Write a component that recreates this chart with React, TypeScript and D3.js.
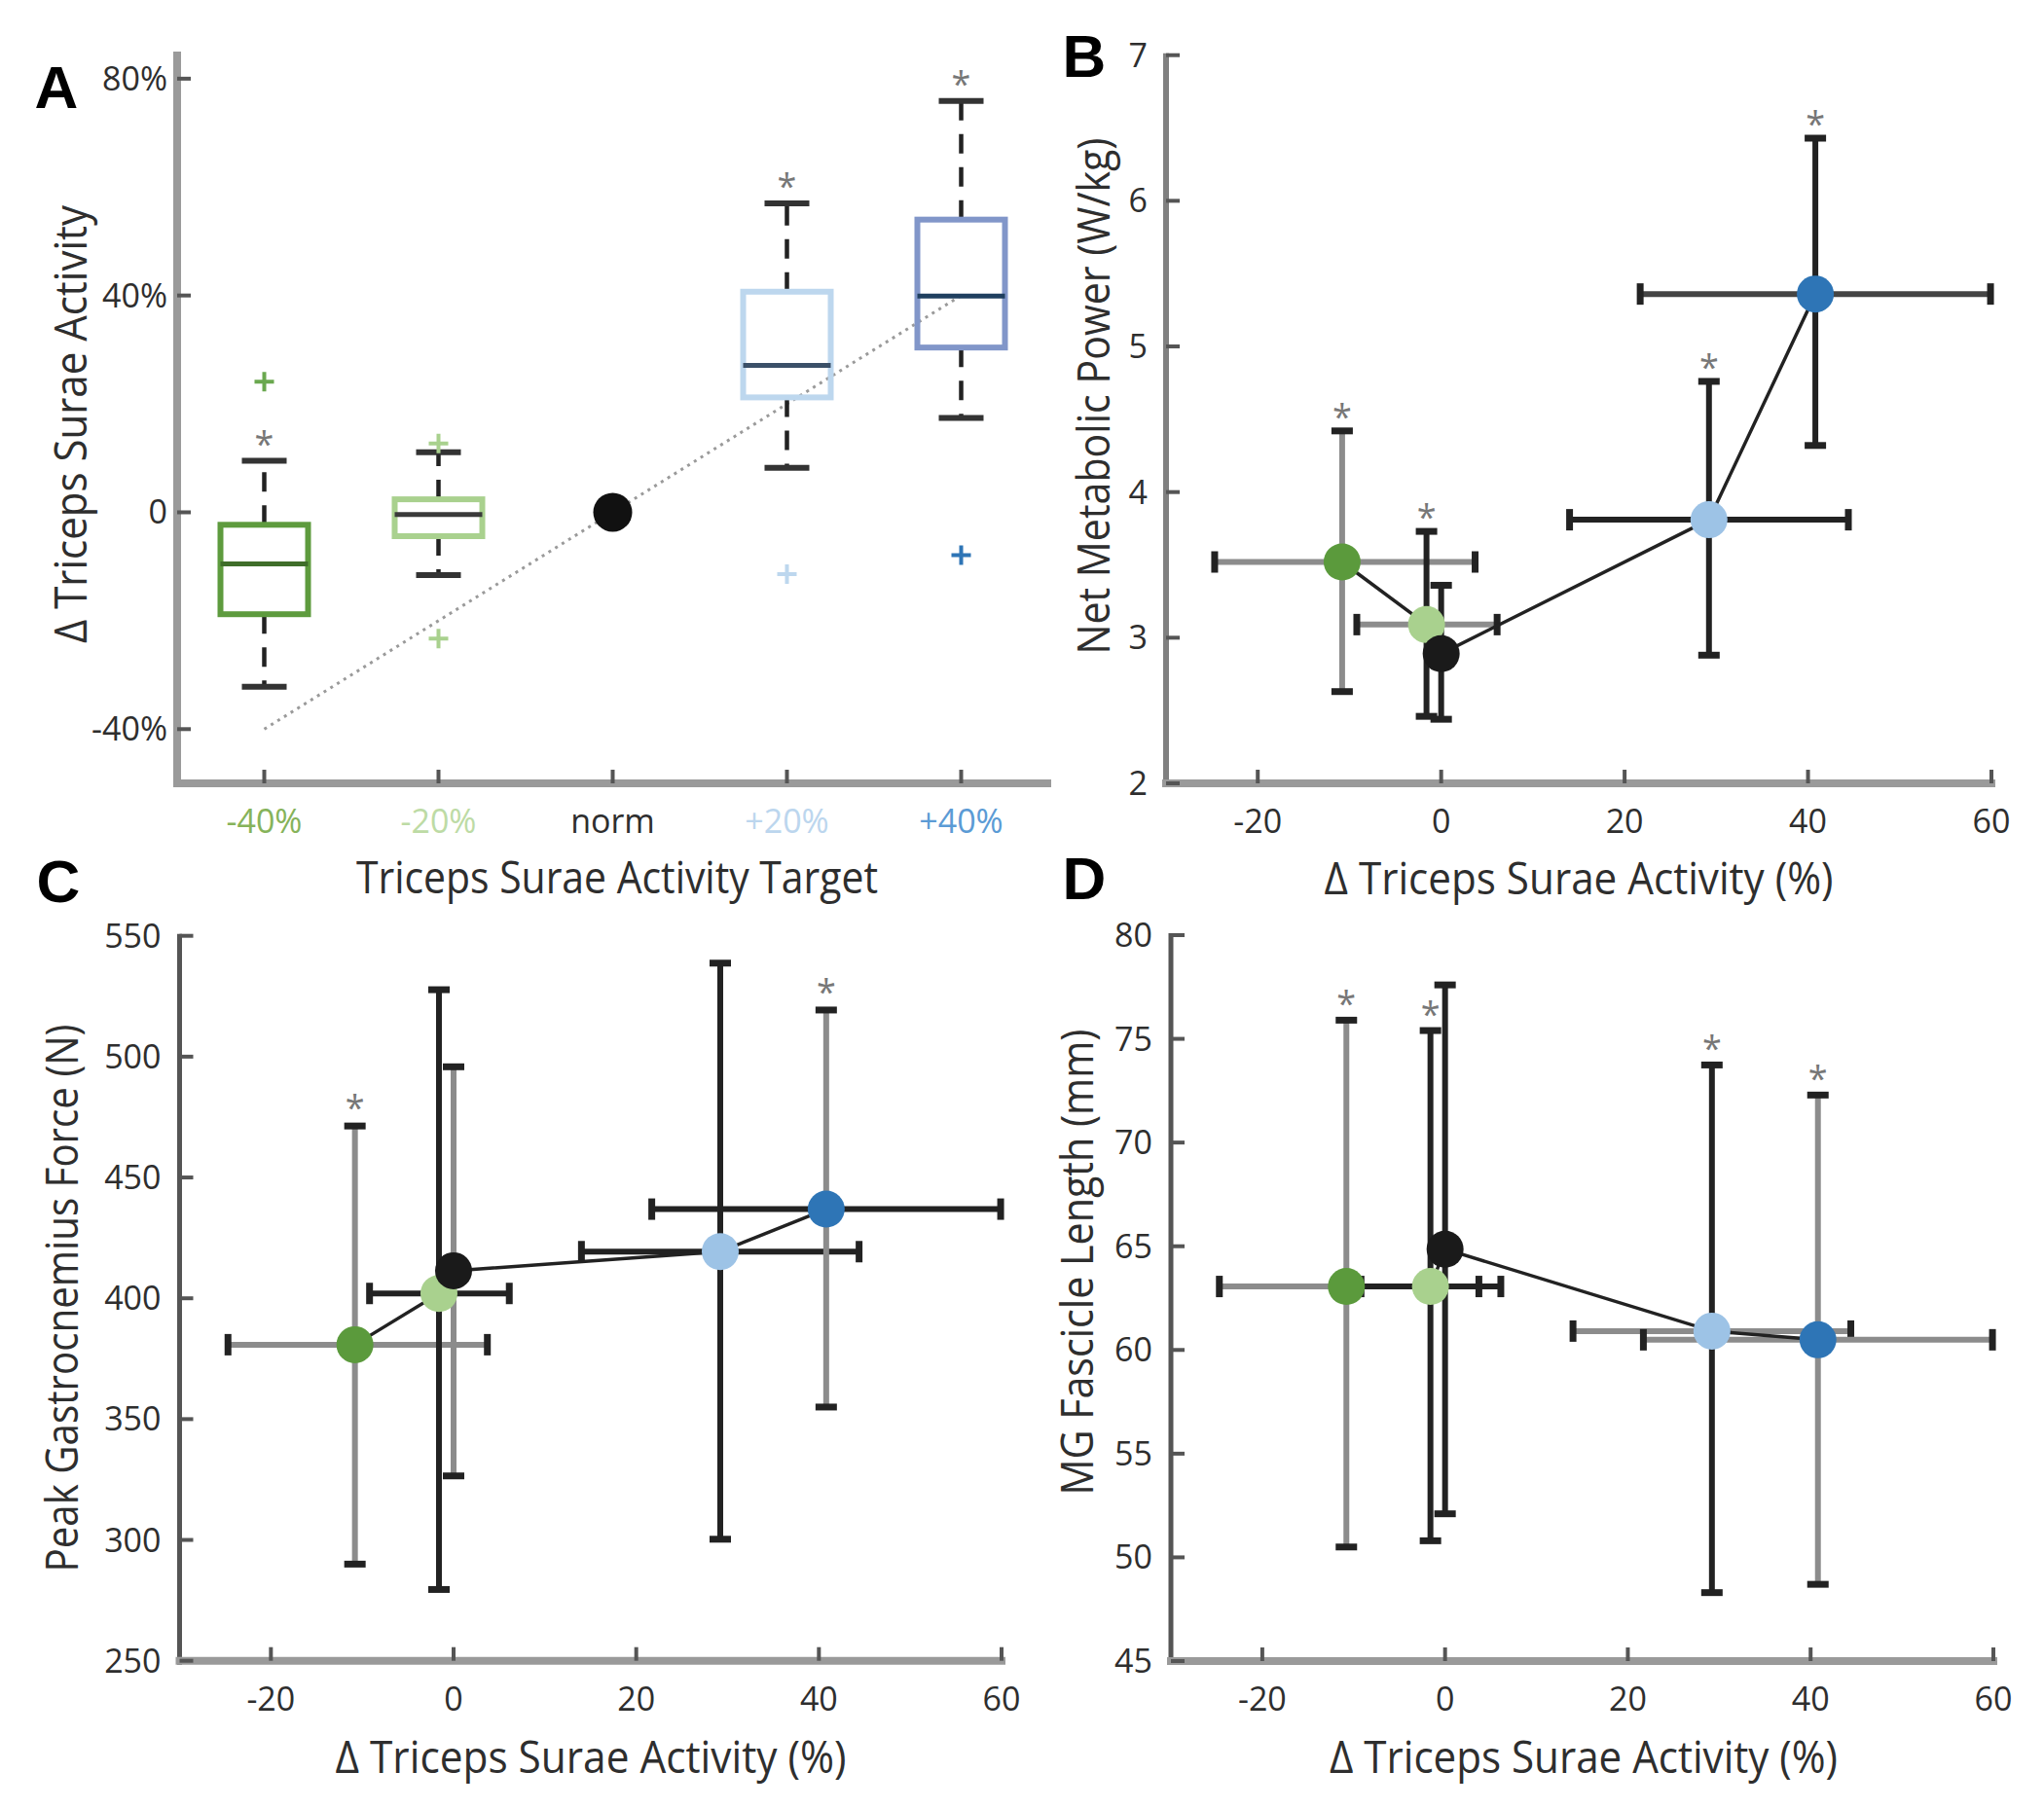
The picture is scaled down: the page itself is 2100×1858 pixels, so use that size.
import React from 'react';
import * as d3 from 'd3';

// ---------- DATA ----------
const targets = ['-40%', '-20%', 'norm', '+20%', '+40%'];

// Panel A: box plots of Δ triceps surae activity (%) per target
const boxTargets = ['-40%', '-20%', '+20%', '+40%'];
const boxLow = [-32.2, -11.6, 8.2, 17.4];
const boxQ1 = [-18.8, -4.4, 21.2, 30.4];
const boxMedian = [-9.5, -0.4, 27.1, 39.9];
const boxQ3 = [-2.3, 2.4, 40.7, 54.0];
const boxHigh = [9.5, 11.1, 57.0, 75.9];
const boxOutliers = [[24.1], [12.7, -23.3], [-11.4], [-7.9]];
const boxSignificant = [true, false, true, true];
const normTarget = 'norm';
const normValue = 0;
const unityFrom = { target: '-40%', value: -40 };
const unityTo = { target: '+40%', value: 40 };
const aYTicks = [-40, 0, 40, 80];
const aYTickLabels = ['-40%', '0', '40%', '80%'];

// Panels B–D: x = Δ triceps surae activity (%), mean and error range
const activityMean = [-10.8, -1.6, 0, 29.2, 40.8];
const activityLow = [-24.7, -9.2, 0, 14.0, 21.7];
const activityHigh = [3.7, 6.1, 0, 44.4, 59.9];
const xTicksBCD = [-20, 0, 20, 40, 60];

// B: net metabolic power (W/kg)
const metabolicMean = [3.52, 3.09, 2.89, 3.81, 5.36];
const metabolicLow = [2.63, 2.46, 2.44, 2.88, 4.32];
const metabolicHigh = [4.42, 3.73, 3.36, 4.76, 6.43];
const metabolicSig = [true, true, false, true, true];
const metabolicTicks = [2, 3, 4, 5, 6, 7];

// C: peak gastrocnemius force (N)
const forceMean = [380.8, 402.0, 411.4, 419.3, 436.9];
const forceLow = [290.0, 279.5, 326.5, 300.3, 355.0];
const forceHigh = [471.3, 527.7, 495.8, 538.7, 519.3];
const forceSig = [true, false, false, false, true];
const forceTicks = [250, 300, 350, 400, 450, 500, 550];

// D: MG fascicle length (mm)
const fascicleMean = [63.06, 63.06, 64.86, 60.91, 60.49];
const fascicleLow = [50.5, 50.8, 52.1, 48.3, 48.7];
const fascicleHigh = [75.9, 75.4, 77.6, 73.74, 72.29];
const fascicleSig = [true, true, false, true, true];
const fascicleTicks = [45, 50, 55, 60, 65, 70, 75, 80];

// ---------- STYLE ----------
const FONT = "'Open Sans', 'Liberation Sans', Arial, sans-serif";
const GRAY = '#8c8c8c';
const DARK = '#222';
const TXT = '#2e2e2e';
const pointColors = ['#5b9a3c', '#a9d18e', '#1a1a1a', '#9dc3e6', '#2e75b6'];
const targetLabelColors = ['#86b35a', '#bddba5', '#2e2e2e', '#bcd6ee', '#5b9bd5'];
const boxStroke = ['#5e9b3e', '#a9d18e', '#bdd7ee', '#8196c9'];
const medianStroke = ['#3f6e2a', '#3a3a3a', '#3b5068', '#1f3f5f'];
const outlierColor = ['#6aa84f', '#a9d18e', '#bdd7ee', '#2e75b6'];

const TICK_FS = 34;
const TITLE_FS = 46;

function Asterisk({ x, y }: { x: number; y: number }) {
  return (
    <text x={x} y={y + 20} textAnchor="middle" fontSize={36} fill="#777" fontFamily={FONT}>
      *
    </text>
  );
}

function Plus({ x, y, color }: { x: number; y: number; color: string }) {
  const s = 10;
  return (
    <path d={`M${x - s},${y}H${x + s}M${x},${y - s}V${y + s}`} stroke={color} strokeWidth={4} fill="none" />
  );
}

function PanelA() {
  const left = 182, right = 1077, top = 53, bottom = 805;
  const x = d3.scaleLinear().domain([0.5, targets.length + 0.5]).range([left, right]);
  const y = d3.scaleLinear().domain([-50, 85]).range([bottom, top]);
  const pos = (t: string) => x(targets.indexOf(t) + 1);
  const halfBox = 45, halfCap = 23;
  return (
    <g>
      <line x1={pos(unityFrom.target)} y1={y(unityFrom.value)} x2={pos(unityTo.target)} y2={y(unityTo.value)}
        stroke="#9a9a9a" strokeWidth={3} strokeDasharray="3 5" />
      {boxTargets.map((t, i) => {
        const cx = pos(t);
        return (
          <g key={t}>
            <line x1={cx} x2={cx} y1={y(boxQ3[i])} y2={y(boxHigh[i])} stroke={DARK} strokeWidth={4.5} strokeDasharray="20 14" />
            <line x1={cx} x2={cx} y1={y(boxQ1[i])} y2={y(boxLow[i])} stroke={DARK} strokeWidth={4.5} strokeDasharray="20 14" />
            <line x1={cx - halfCap} x2={cx + halfCap} y1={y(boxHigh[i])} y2={y(boxHigh[i])} stroke="#333" strokeWidth={6} />
            <line x1={cx - halfCap} x2={cx + halfCap} y1={y(boxLow[i])} y2={y(boxLow[i])} stroke="#333" strokeWidth={6} />
            <rect x={cx - halfBox} width={halfBox * 2} y={y(boxQ3[i])} height={y(boxQ1[i]) - y(boxQ3[i])}
              fill="none" stroke={boxStroke[i]} strokeWidth={6} />
            <line x1={cx - halfBox} x2={cx + halfBox} y1={y(boxMedian[i])} y2={y(boxMedian[i])} stroke={medianStroke[i]} strokeWidth={5} />
            {boxOutliers[i].map((o, j) => <Plus key={j} x={cx} y={y(o)} color={outlierColor[i]} />)}
            {boxSignificant[i] && <Asterisk x={cx} y={y(boxHigh[i]) - 25} />}
          </g>
        );
      })}
      <circle cx={pos(normTarget)} cy={y(normValue)} r={20} fill="#111" />
      <line x1={left} x2={left} y1={top} y2={bottom + 4} stroke="#9a9a9a" strokeWidth={8} />
      <line x1={left - 4} x2={right + 3} y1={bottom} y2={bottom} stroke="#9a9a9a" strokeWidth={8} />
      {aYTicks.map((v, i) => (
        <g key={v}>
          <line x1={left} x2={left + 14} y1={y(v)} y2={y(v)} stroke="#555" strokeWidth={4} />
          <text x={left - 10} y={y(v) + 12} textAnchor="end" fontSize={TICK_FS} fill={TXT}>{aYTickLabels[i]}</text>
        </g>
      ))}
      {targets.map((t, i) => (
        <g key={t}>
          <line x1={pos(t)} x2={pos(t)} y1={bottom} y2={bottom - 14} stroke="#555" strokeWidth={4} />
          <text x={pos(t)} y={bottom + 51} textAnchor="middle" fontSize={TICK_FS} fill={targetLabelColors[i]}>{t}</text>
        </g>
      ))}
      <text x={634} y={903 + 15} textAnchor="middle" fontSize={TITLE_FS} fill={TXT} textLength={536} lengthAdjust="spacingAndGlyphs">
        Triceps Surae Activity Target
      </text>
      <text transform="translate(74,436) rotate(-90)" y={15} textAnchor="middle" fontSize={TITLE_FS} fill={TXT} textLength={450} lengthAdjust="spacingAndGlyphs">
        Δ Triceps Surae Activity
      </text>
    </g>
  );
}

type ScatterProps = {
  left: number; right: number; top: number; bottom: number;
  yDomain: [number, number]; yTicks: number[];
  mean: number[]; low: number[]; high: number[]; sig: boolean[];
  vColors: string[]; hColors: string[];
  yAxisColor: string; yAxisWidth: number; starGap: number;
  xTitle: string; xTitlePos: [number, number]; xTitleLen: number;
  yTitle: string; yTitlePos: [number, number]; yTitleLen: number;
};

function ScatterPanel(p: ScatterProps) {
  const x = d3.scaleLinear().domain([-30, 60]).range([p.left, p.right]);
  const y = d3.scaleLinear().domain(p.yDomain).range([p.bottom, p.top]);
  const cap = 11;
  const line = d3.line<number>().x((_, i) => x(activityMean[i])).y((d) => y(d));
  return (
    <g>
      <line x1={p.left} x2={p.left} y1={p.top - 2} y2={p.bottom + 4} stroke={p.yAxisColor} strokeWidth={p.yAxisWidth} />
      <line x1={p.left - 4} x2={p.right + 4} y1={p.bottom} y2={p.bottom} stroke="#9a9a9a" strokeWidth={8} />
      {p.yTicks.map((v) => (
        <g key={v}>
          <line x1={p.left} x2={p.left + 14} y1={y(v)} y2={y(v)} stroke="#555" strokeWidth={4} />
          <text x={p.left - 19} y={y(v) + 12} textAnchor="end" fontSize={TICK_FS} fill={TXT}>{v}</text>
        </g>
      ))}
      {xTicksBCD.map((v) => (
        <g key={v}>
          <line x1={x(v)} x2={x(v)} y1={p.bottom} y2={p.bottom - 14} stroke="#555" strokeWidth={4} />
          <text x={x(v)} y={p.bottom + 51} textAnchor="middle" fontSize={TICK_FS} fill={TXT}>{v}</text>
        </g>
      ))}
      {p.mean.map((m, i) => {
        const cx = x(activityMean[i]);
        const cy = y(m);
        const hasH = activityLow[i] !== activityHigh[i];
        return (
          <g key={i}>
            <line x1={cx} x2={cx} y1={y(p.low[i])} y2={y(p.high[i])} stroke={p.vColors[i]} strokeWidth={6} />
            <line x1={cx - cap} x2={cx + cap} y1={y(p.low[i])} y2={y(p.low[i])} stroke={DARK} strokeWidth={7} />
            <line x1={cx - cap} x2={cx + cap} y1={y(p.high[i])} y2={y(p.high[i])} stroke={DARK} strokeWidth={7} />
            {hasH && (
              <g>
                <line x1={x(activityLow[i])} x2={x(activityHigh[i])} y1={cy} y2={cy} stroke={p.hColors[i]} strokeWidth={6} />
                <line x1={x(activityLow[i])} x2={x(activityLow[i])} y1={cy - cap} y2={cy + cap} stroke={DARK} strokeWidth={7} />
                <line x1={x(activityHigh[i])} x2={x(activityHigh[i])} y1={cy - cap} y2={cy + cap} stroke={DARK} strokeWidth={7} />
              </g>
            )}
            {p.sig[i] && <Asterisk x={cx} y={y(p.high[i]) - p.starGap} />}
          </g>
        );
      })}
      <path d={line(p.mean) || ''} fill="none" stroke="#222" strokeWidth={3.5} />
      {p.mean.map((m, i) => (
        <circle key={i} cx={x(activityMean[i])} cy={y(m)} r={19} fill={pointColors[i]} />
      ))}
      <text x={p.xTitlePos[0]} y={p.xTitlePos[1] + 15} textAnchor="middle" fontSize={TITLE_FS} fill={TXT} textLength={p.xTitleLen} lengthAdjust="spacingAndGlyphs">
        {p.xTitle}
      </text>
      <text transform={`translate(${p.yTitlePos[0]},${p.yTitlePos[1]}) rotate(-90)`} y={15} textAnchor="middle" fontSize={TITLE_FS} fill={TXT} textLength={p.yTitleLen} lengthAdjust="spacingAndGlyphs">
        {p.yTitle}
      </text>
    </g>
  );
}

function PanelLetter({ x, y, t }: { x: number; y: number; t: string }) {
  return (
    <text x={x} y={y + 22} textAnchor="middle" fontSize={62} fontWeight="bold" fill="#000" fontFamily="'Liberation Sans', Arial, sans-serif">{t}</text>
  );
}

export default function App() {
  const G = GRAY, D = DARK;
  return (
    <div style={{ position: 'absolute', left: 0, top: 0 }}>
      <svg width={2100} height={1858} fontFamily={FONT} style={{ display: 'block', background: '#fff' }}>
        <rect width={2100} height={1858} fill="#fff" />
        <PanelA />
        <ScatterPanel left={1198} right={2046} top={56.7} bottom={805}
          yDomain={[2, 7]} yTicks={metabolicTicks}
          mean={metabolicMean} low={metabolicLow} high={metabolicHigh} sig={metabolicSig}
          vColors={[G, D, D, D, D]} hColors={[G, G, D, D, '#444']}
          yAxisColor="#808080" yAxisWidth={6} starGap={22}
          xTitle="Δ Triceps Surae Activity (%)" xTitlePos={[1622, 904]} xTitleLen={523}
          yTitle="Net Metabolic Power (W/kg)" yTitlePos={[1125, 407]} yTitleLen={531} />
        <ScatterPanel left={184.5} right={1029} top={961.7} bottom={1706.7}
          yDomain={[250, 550]} yTicks={forceTicks}
          mean={forceMean} low={forceLow} high={forceHigh} sig={forceSig}
          vColors={[G, D, G, D, G]} hColors={[G, D, D, D, D]}
          yAxisColor="#555" yAxisWidth={5} starGap={26}
          xTitle="Δ Triceps Surae Activity (%)" xTitlePos={[607, 1807]} xTitleLen={525}
          yTitle="Peak Gastrocnemius Force (N)" yTitlePos={[65, 1334]} yTitleLen={563} />
        <ScatterPanel left={1203} right={2048} top={961} bottom={1707}
          yDomain={[45, 80]} yTicks={fascicleTicks}
          mean={fascicleMean} low={fascicleLow} high={fascicleHigh} sig={fascicleSig}
          vColors={[G, D, D, D, G]} hColors={[G, D, D, G, G]}
          yAxisColor="#555" yAxisWidth={5} starGap={24}
          xTitle="Δ Triceps Surae Activity (%)" xTitlePos={[1627, 1807]} xTitleLen={522}
          yTitle="MG Fascicle Length (mm)" yTitlePos={[1108, 1297]} yTitleLen={479} />
        <PanelLetter x={58} y={89} t="A" />
        <PanelLetter x={1114} y={57} t="B" />
        <PanelLetter x={60} y={905} t="C" />
        <PanelLetter x={1114} y={902} t="D" />
      </svg>
    </div>
  );
}
